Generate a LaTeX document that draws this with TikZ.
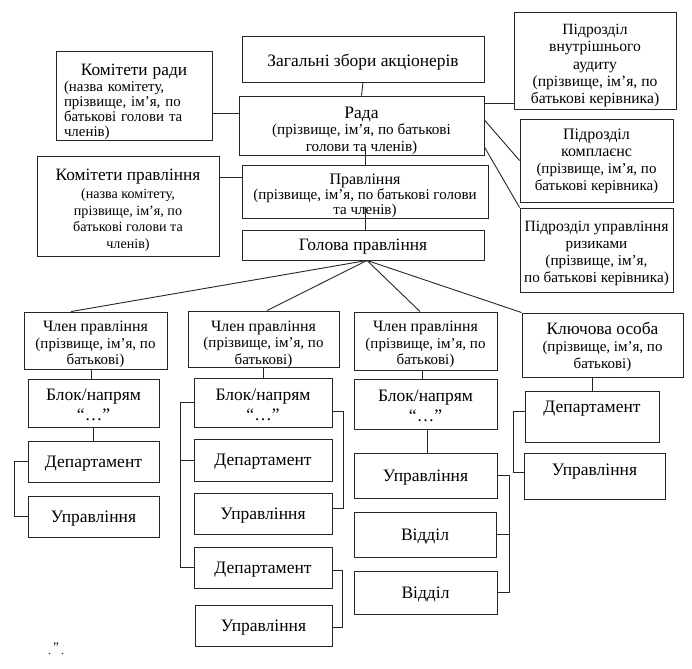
\documentclass[tikz,border=0pt]{standalone}
\usepackage{fontspec}
\setmainfont{Liberation Serif}
\newcommand\fs[2]{\fontsize{#1}{#2}\selectfont}
\tikzset{
 frame/.style={draw=black!85, line width=0.9pt, inner sep=0pt},
 btext/.style={inner sep=0pt, align=center, font=\fs{15}{16}},
 big/.style={font=\fs{17.5}{20}},
 conn/.style={draw=black!85, line width=0.9pt},
}
% #1 text options, #2 name, #3-#6 corners, #7 text
\newcommand\bx[7][]{%
 \node[frame,minimum width={#5pt-#3pt},minimum height={#6pt-#4pt}] (#2) at ({(#3+#5)/2},{(#4+#6)/2}) {};
 \node[btext,#1] (#2-t) at (#2.center) {#7};}
\begin{document}
\begin{tikzpicture}[x=1pt,y=-1pt]
\useasboundingbox[fill=white] (0,0) rectangle (692,668);
% top
\bx[font=\fs{17.4}{20},yshift=-3pt]{zag}{242}{36}{484}{82}{Загальні збори акціонерів}
\bx[font=\fs{15.2}{16.5},yshift=-5pt]{rada}{239}{96}{484}{155}{{\fs{17.5}{17}Рада}\\(прізвище, ім’я, по батькові\\голови та членів)}
\bx[font=\fs{15}{15},yshift=-4.5pt]{pravl}{242}{165}{488}{218}{{\fs{16}{16}Правління}\\(прізвище, ім’я, по батькові голови\\та членів)}
\bx[font=\fs{17.4}{20},yshift=-1.5pt]{hol}{242}{230}{484}{260}{Голова правління}
\bx[text width=140pt,align=left,font=\fs{14.9}{15},yshift=-6pt]{kr}{56}{51}{212}{140}{\makebox[\linewidth][c]{\fs{17.3}{17}Комітети ради}\\[1pt](назва комітету,\\прізвище, ім’я, по\\батькові голови та\\членів)}
\bx[font=\fs{14.1}{16.5},yshift=-4.5pt]{kp}{37}{156}{219}{256}{{\fs{17.3}{17}Комітети правління}\\[1.5pt](назва комітету,\\прізвище, ім’я, по\\батькові голови та\\членів)}
\bx[font=\fs{15.6}{17.3},yshift=-5pt]{audit}{514}{12}{676}{109}{Підрозділ\\внутрішнього\\аудиту\\(прізвище, ім’я, по\\батькові керівника)}
\bx[font=\fs{15}{17},yshift=-1pt]{kompl}{520}{119}{673}{202}{{\fs{16}{17}Підрозділ}\\{\fs{16}{17}комплаєнс}\\(прізвище, ім’я, по\\батькові керівника)}
\bx[font=\fs{15.2}{17},yshift=-3pt]{risk}{520}{208}{673}{292}{{\fs{15.7}{17}Підрозділ управління}\\ризиками\\(прізвище, ім’я,\\по батькові керівника)}
% members
\bx[font=\fs{15}{16.5},yshift=-4pt]{ch1}{24}{312}{167}{369}{{\fs{15.8}{16}Член правління}\\(прізвище, ім’я, по\\батькові)}
\node[frame,minimum width=151pt,minimum height=56pt] (ch2) at (263.5,339) {};
\begin{scope}
\clip (188,311) rectangle (339,367);
\node[btext,font=\fs{15}{16.5}] (ch2-t) at (263.5,344) {{\fs{15.8}{16}Член правління}\\(прізвище, ім’я, по\\батькові)};
\end{scope}
\bx[font=\fs{15}{16.5},yshift=-3.5pt]{ch3}{354}{312}{497}{370}{{\fs{15.8}{16}Член правління}\\(прізвище, ім’я, по\\батькові)}
\bx[font=\fs{15}{16.5},yshift=-1.5pt]{kl}{522}{313}{683}{377}{{\fs{17.3}{17}Ключова особа}\\[1pt](прізвище, ім’я, по\\батькові)}
% column 1
\bx[big,yshift=-2pt]{blok1}{28}{379}{159}{427}{Блок/напрям\\“…”}
\bx[big,yshift=-2pt]{dep1}{28}{441}{159}{482}{Департамент}
\bx[big,yshift=-2pt]{upr1}{28}{496}{159}{537}{Управління}
% column 2
\bx[big,yshift=-2pt]{blok2}{194}{378}{332}{427}{Блок/напрям\\“…”}
\bx[big,yshift=-2pt]{dep2a}{194}{439}{332}{481}{Департамент}
\bx[big,yshift=-2pt]{upr2a}{194}{493}{332}{534}{Управління}
\bx[big,yshift=-2pt]{dep2b}{194}{547}{332}{588}{Департамент}
\bx[big,yshift=-2pt]{upr2b}{195}{605}{332}{646}{Управління}
% column 3
\bx[big,yshift=-2pt]{blok3}{354}{379}{497}{429}{Блок/напрям\\“…”}
\bx[big,yshift=-2pt]{upr3}{354}{453}{497}{498}{Управління}
\bx[big,yshift=-2pt]{vid1}{354}{512}{496}{557}{Відділ}
\bx[big,yshift=-2pt]{vid2}{354}{571}{497}{614}{Відділ}
% column 4
\bx[big,yshift=8pt]{dep4}{525}{391}{659}{442}{Департамент}
\bx[big,yshift=4pt]{upr4}{524}{453}{665}{499}{Управління}
% stray marks
\node[font=\fs{13}{13},inner sep=0pt] (stray) at (56,647) {”};
\fill[black!80] (49.5,653.5) circle (0.8) (62.5,653.5) circle (0.8);
% connectors
\draw[conn] (kr.east |- 0,113) -- (rada.west |- 0,113);
\draw[conn] (kp.east |- 0,177) -- (pravl.west |- 0,177);
\draw[conn] (zag.south) -- (rada.north);
\draw[conn] (pravl.north |- 0,147) -- (pravl.north);
\draw[conn] (pravl.south |- 0,207) -- (pravl.south |- hol.north);
\draw[conn] (rada.east |- 0,103) -- (audit.west |- 0,103);
\draw[conn] (rada.east |- 0,120) -- (kompl.west);
\draw[conn] (rada.east |- 0,147) -- (risk.north west);
\coordinate (hb) at ([xshift=4pt]hol.south);
\draw[conn] (hb) -- ([xshift=-24.5pt]ch1.north);
\draw[conn] (hb) -- ([xshift=3.5pt]ch2.north);
\draw[conn] (hb) -- ([xshift=-5.5pt]ch3.north);
\draw[conn] (hb) -- (kl.north west);
% col1
\draw[conn] ([xshift=-2.5pt]blok1.north) -- ([xshift=-2.5pt]blok1.north |- ch1.south);
\draw[conn] (blok1.south) -- (dep1.north);
\draw[conn] (dep1.west) -- ++(-13,0) |- (upr1.west);
% col2
\draw[conn] (ch2.south -| blok2.north) -- (blok2.north);
\draw[conn] (blok2.west) -- ++(-13,0) |- (dep2b.west);
\draw[conn] (dep2a.west) -- ++(-13,0);
\draw[conn] (blok2.east |- 0,411) -- ++(11,0) |- (upr2a.east |- 0,508);
\draw[conn] (dep2b.east |- 0,570) -- ++(10,0) |- (upr2b.east |- 0,627);
% col3
\draw[conn] ([xshift=-3.5pt]blok3.north) -- ([xshift=-3.5pt]blok3.north |- ch3.south);
\draw[conn] ([xshift=1.5pt]blok3.south) -- ([xshift=1.5pt]blok3.south |- upr3.north);
\draw[conn] (upr3.east) -- ++(12,0) |- (vid2.east);
\draw[conn] (vid1.east) -- ++(13,0);
% col4
\draw[conn] (kl.south -| dep4.north) -- (dep4.north);
\draw[conn] (dep4.west |- 0,411) -- ++(-11,0) |- (upr4.west |- 0,472);
\end{tikzpicture}
\end{document}
